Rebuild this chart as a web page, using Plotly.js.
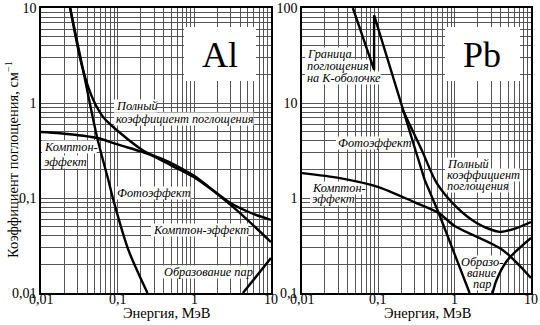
<!DOCTYPE html>
<html>
<head>
<meta charset="utf-8">
<script src="https://cdn.plot.ly/plotly-3.0.1.min.js"></script>
<style>html,body{margin:0;padding:0;background:#fff}#chart{width:540px;height:325px}</style>
</head>
<body>
<div id="chart"></div>
<script>
// ---------- data ----------
// Aluminium, energy in MeV, attenuation in cm^-1
const alPhotoE   = [0.024, 0.0354, 0.0542, 0.0755, 0.088, 0.138, 0.245];
const alPhotoMu  = [10, 2.22, 0.428, 0.155, 0.095, 0.0284, 0.01];
const alTotalE   = [0.024, 0.0345, 0.048, 0.065, 0.108, 0.217, 0.491, 0.98, 3.0, 5.5, 10];
const alTotalMu  = [10, 2.39, 1.08, 0.71, 0.483, 0.315, 0.235, 0.172, 0.088, 0.0695, 0.0587];
const alComptE   = [0.01, 0.0177, 0.0542, 0.1, 0.211, 0.268, 0.49, 0.982, 3.0, 10];
const alComptMu  = [0.495, 0.48, 0.428, 0.366, 0.305, 0.284, 0.222, 0.166, 0.084, 0.0344];
const alPairE    = [4.3, 10];
const alPairMu   = [0.01, 0.0233];

// Lead
const pbPhotoE   = [0.0464, 0.088, 0.088, 0.209, 0.306, 0.405, 0.618, 1.57];
const pbPhotoMu  = [100, 22.3, 84, 8.44, 3.2, 1.55, 0.695, 0.1];
const pbTotalE   = [0.209, 0.37, 0.58, 1.06, 1.94, 3.87, 6.46, 10];
const pbTotalMu  = [8.44, 3.2, 1.44, 0.80, 0.546, 0.44, 0.483, 0.559];
const pbComptE   = [0.01, 0.0314, 0.0984, 0.3, 0.618, 1.0, 4.24, 10];
const pbComptMu  = [1.83, 1.62, 1.31, 0.9, 0.695, 0.507, 0.284, 0.144];
const pbPairE    = [3.14, 3.54, 4.93, 10];
const pbPairMu   = [0.1, 0.137, 0.222, 0.379];

// tick labels
const xDecades   = [0.01, 0.1, 1, 10];
const xLabels    = ['0,01', '0,1', '1', '10'];
const yAlDecades = [0.01, 0.1, 1, 10];
const yAlLabels  = ['0,01', '0,1', '1', '10'];
const yPbDecades = [0.1, 1, 10, 100];
const yPbLabels  = ['0,1', '1', '10', '100'];

// ---------- helpers ----------
function gridTicks(decades, labels, show) {
  const vals = [], text = [];
  decades.forEach((d, i) => {
    vals.push(d); text.push(show ? labels[i] : '');
    if (i < decades.length - 1) {
      for (let m = 2; m <= 9; m++) { vals.push(d * m); text.push(''); }
    }
  });
  return {vals, text};
}
const SERIF = 'Liberation Serif';
const W = 540, H = 325;
// plot-area pixel frames of the two panels, with their log ranges
const P = {
  left:  {x0: 41,  x1: 271, y0: 8, y1: 293, xr: [-2, 1], yr: [-2, 1], xref: 'x',  yref: 'y'},
  right: {x0: 302, x1: 531, y0: 8, y1: 293, xr: [-2, 1], yr: [-1, 2], xref: 'x2', yref: 'y2'}
};
function line(x, y, xa, ya, shape) {
  return {x, y, xaxis: xa, yaxis: ya, mode: 'lines', hoverinfo: 'skip',
          line: {color: '#000', width: 2.4, shape: shape || 'spline', smoothing: 0.8}};
}
function axisBase(ticks, dom) {
  return {type: 'log', domain: dom, tickmode: 'array', tickvals: ticks.vals, ticktext: ticks.text,
          showgrid: true, gridcolor: '#555', gridwidth: 1, zeroline: false,
          showline: true, mirror: true, linecolor: '#000', linewidth: 1.6, ticks: '',
          tickfont: {family: SERIF, size: 14, color: '#000'}};
}
const cv = document.createElement('canvas').getContext('2d');
function textW(t, size, italic) {
  cv.font = (italic ? 'italic ' : '') + size + 'px "' + SERIF + '"';
  return cv.measureText(t).width;
}
const shapes = [], annotations = [];
// white box in a panel, given in pixels, converted to the panel's data units
function whiteBox(panel, px0, px1, py0, py1) {
  const p = P[panel];
  const dx = v => Math.pow(10, p.xr[0] + (p.xr[1] - p.xr[0]) * (v - p.x0) / (p.x1 - p.x0));
  const dy = v => Math.pow(10, p.yr[1] - (p.yr[1] - p.yr[0]) * (v - p.y0) / (p.y1 - p.y0));
  shapes.push({type: 'rect', xref: p.xref, yref: p.yref,
    x0: dx(px0), x1: dx(px1), y0: dy(py1), y1: dy(py0),
    fillcolor: '#fff', line: {width: 0}, layer: 'between'});
}
const LS = 12.3;
// italic label with a white box behind it (below the curves)
function lab(panel, text, px, py, anchor) {
  anchor = anchor || 'left';
  const w = textW(text, LS, true);
  let x0 = px;
  if (anchor === 'center') x0 = px - w / 2;
  whiteBox(panel, x0 - 1, x0 + w + 1, py - 6.5, py + 6.5);
  annotations.push({xref: 'paper', yref: 'paper', x: px / W, y: 1 - py / H,
    xanchor: anchor, yanchor: 'middle', showarrow: false, text: '<i>' + text + '</i>',
    borderpad: 0, font: {family: SERIF, size: LS, color: '#000'}});
}
function plain(text, px, py, size, extra) {
  annotations.push(Object.assign({xref: 'paper', yref: 'paper', x: px / W, y: 1 - py / H,
    xanchor: 'center', yanchor: 'middle', showarrow: false, text: text,
    font: {family: SERIF, size: size, color: '#000'}}, extra || {}));
}
// x tick labels drawn a little closer to the axis than Plotly's default
function xTickLabels(xref) {
  xDecades.forEach((v, i) => {
    annotations.push({xref: xref, yref: 'paper', x: Math.log10(v), y: 1 - 299 / H,
      xanchor: 'center', yanchor: 'middle', showarrow: false, text: xLabels[i],
      font: {family: SERIF, size: 14, color: '#000'}});
  });
}

// panel tags
whiteBox('left', 184, 256, 27, 81);
plain('Al', 220, 55, 36);
whiteBox('right', 445, 520, 27, 81);
plain('Pb', 482, 55, 36);
// Al labels
lab('left', 'Полный', 115, 106);
lab('left', 'коэффициент поглощения', 115, 119);
lab('left', 'Комптон-', 43, 147);
lab('left', 'эффект', 43, 162);
lab('left', 'Фотоэффект', 116, 193);
lab('left', 'Комптон-эффект', 152, 230);
lab('left', 'Образование пар', 163, 272);
// Pb labels
lab('right', 'Граница', 306, 54);
lab('right', 'поглощения', 306, 66);
lab('right', 'на К-оболочке', 306, 78);
lab('right', 'Фотоэффект', 337, 143);
lab('right', 'Полный', 446, 164);
lab('right', 'коэффициент', 446, 175);
lab('right', 'поглощения', 446, 186);
lab('right', 'Комптон-', 311, 188);
lab('right', 'эффект', 311, 199);
lab('right', 'Образо-', 482, 262, 'center');
lab('right', 'вание', 482, 273, 'center');
lab('right', 'пар', 482, 284, 'center');
// x tick labels and axis titles
xTickLabels('x');
xTickLabels('x2');
plain('Энергия, МэВ', 166, 313, 14.5);
plain('Энергия, МэВ', 427, 313, 14.5);
plain('Коэффициент поглощения, см<sup>−1</sup>', 12, 160, 14.5, {textangle: -90});

const xt = gridTicks(xDecades, xLabels, false);
const yAl = gridTicks(yAlDecades, yAlLabels, true);
const yPb = gridTicks(yPbDecades, yPbLabels, true);

const traces = [
  line(alComptE, alComptMu, 'x', 'y'),
  line(alTotalE, alTotalMu, 'x', 'y'),
  line(alPhotoE, alPhotoMu, 'x', 'y'),
  line(alPairE, alPairMu, 'x', 'y', 'linear'),
  line(pbComptE, pbComptMu, 'x2', 'y2'),
  line(pbTotalE, pbTotalMu, 'x2', 'y2'),
  line(pbPhotoE, pbPhotoMu, 'x2', 'y2', 'linear'),
  line(pbPairE, pbPairMu, 'x2', 'y2')
];

const yDom = [32 / H, 317 / H];
const layout = {
  width: W, height: H, margin: {l: 0, r: 0, t: 0, b: 0},
  paper_bgcolor: '#fff', plot_bgcolor: '#fff', showlegend: false,
  xaxis:  Object.assign(axisBase(xt,  [41 / W, 271 / W]), {range: [-2, 1], anchor: 'y', showticklabels: false}),
  yaxis:  Object.assign(axisBase(yAl, yDom), {range: [-2, 1], anchor: 'x'}),
  xaxis2: Object.assign(axisBase(xt,  [302 / W, 531 / W]), {range: [-2, 1], anchor: 'y2', showticklabels: false}),
  yaxis2: Object.assign(axisBase(yPb, yDom), {range: [-1, 2], anchor: 'x2'}),
  shapes: shapes,
  annotations: annotations
};

Plotly.newPlot('chart', traces, layout, {staticPlot: true, displayModeBar: false});
</script>
</body>
</html>
